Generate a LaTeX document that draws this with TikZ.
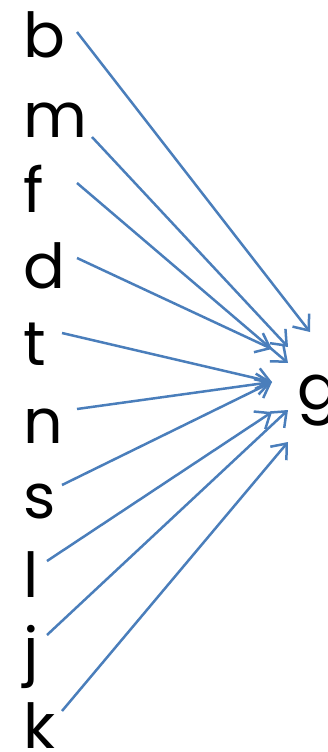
\documentclass[tikz,border=0pt]{standalone}
\usepackage{fontspec}
\setmainfont{Poppins}
\usepackage{tikz}
\usetikzlibrary{arrows.meta}
\definecolor{lineblue}{RGB}{74,126,187}

\begin{document}
\begin{tikzpicture}[x=1pt,y=-1pt,
    letter/.style={anchor=base west,inner sep=0pt,font=\fontsize{62pt}{62pt}\selectfont},
    arr/.style={draw=lineblue,line width=2.5pt,-{Straight Barb[length=13pt,width=21pt]}}]
  \useasboundingbox (0,0) rectangle (327,752);
  % letters on the left, one under the other
  \foreach \ch/\yy in {b/58,m/137,f/212,d/288,t/365,n/443,s/518,l/597,j/672,k/748}
    \node[letter] (\ch) at (23,\yy) {\ch};
  % the target
  \node[letter] (g) at (297,409) {g};
  % tails
  \coordinate (bt) at (77,32);
  \coordinate (mt) at (92,137);
  \coordinate (ft) at (77,183);
  \coordinate (dt) at (77,258);
  \coordinate (tt) at (62,333);
  \coordinate (nt) at (77,409);
  \coordinate (st) at (62,485);
  \coordinate (lt) at (47,561);
  \coordinate (jt) at (47,635);
  \coordinate (kt) at (62,711);
  % heads around g
  \coordinate (gb) at (310,332);
  \coordinate (gm) at (288,347);
  \coordinate (gf) at (288,363);
  \coordinate (gd) at (272,349);
  \coordinate (gt) at (272,382);
  \coordinate (gl) at (272,412);
  \coordinate (gj) at (288,410);
  \coordinate (gk) at (288,442);
  % arrows
  \draw[arr] (bt) -- (gb);
  \draw[arr] (mt) -- (gm);
  \draw[arr] (ft) -- (gf);
  \draw[arr] (dt) -- (gd);
  \draw[arr] (tt) -- (gt);
  \draw[arr] (nt) -- (gt);
  \draw[arr] (st) -- (gt);
  \draw[arr] (lt) -- (gl);
  \draw[arr] (jt) -- (gj);
  \draw[arr] (kt) -- (gk);
\end{tikzpicture}
\end{document}
